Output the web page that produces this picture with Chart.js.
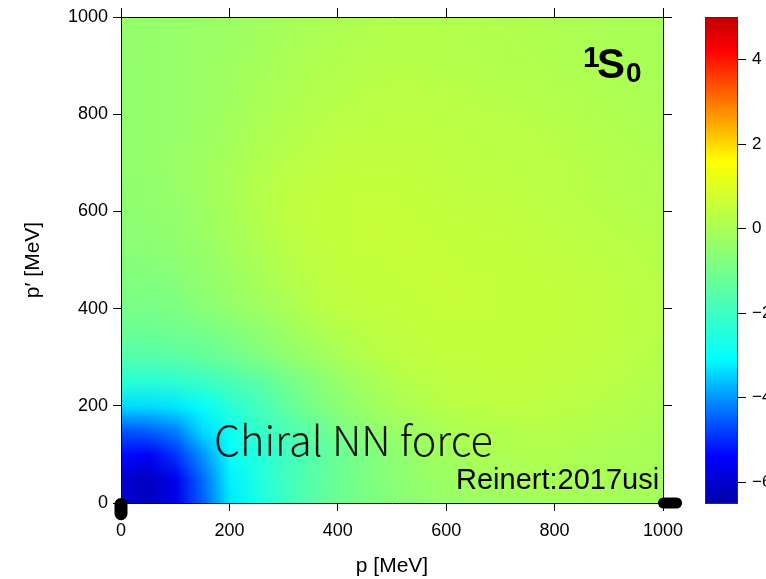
<!DOCTYPE html>
<html>
<head>
<meta charset="utf-8">
<style>
html, body { margin: 0; padding: 0; background: #fff; overflow: hidden; }
canvas { display: block; }
</style>
<script src="https://cdn.jsdelivr.net/npm/chart.js@4.4.0/dist/chart.umd.min.js"></script>
</head>
<body>
<canvas id="chart" width="766" height="579"></canvas>
<script>
// momentum mesh (MeV), same for p and p'
const pGrid = [0, 50, 100, 150, 200, 250, 300, 350, 400, 450, 500, 550, 600, 650, 700, 750, 800, 850, 900, 950, 1000];

// V(p, p'), one row per p' value, columns follow pGrid (p)
const vP0    = [-6.0, -6.2, -5.7, -4.5, -3.3, -2.7, -2.0, -1.55, -1.2, -0.9, -0.7, -0.5, -0.35, -0.25, -0.2, -0.15, -0.1, -0.1, -0.1, -0.1, -0.1];
const vP50   = [-6.0, -6.2, -5.6, -4.4, -3.2, -2.6, -1.95, -1.55, -1.15, -0.85, -0.6, -0.4, -0.25, -0.15, -0.1, -0.05, -0.05, -0.05, -0.05, -0.1, -0.1];
const vP100  = [-5.3, -5.5, -4.9, -4.0, -3.0, -2.5, -2.0, -1.6, -1.2, -0.85, -0.55, -0.3, -0.15, 0.0, 0.05, 0.1, 0.1, 0.05, 0.0, 0.0, -0.05];
const vP150  = [-4.6, -4.5, -4.2, -3.4, -2.9, -2.2, -1.8, -1.4, -0.95, -0.6, -0.35, -0.15, 0.0, 0.1, 0.15, 0.2, 0.2, 0.15, 0.1, 0.05, 0.0];
const vP200  = [-3.4, -3.4, -3.3, -3.0, -2.4, -1.9, -1.4, -0.95, -0.6, -0.3, -0.05, 0.1, 0.25, 0.3, 0.35, 0.35, 0.3, 0.25, 0.2, 0.15, 0.1];
const vP250  = [-2.4, -2.4, -2.3, -2.1, -1.8, -1.5, -1.1, -0.75, -0.4, -0.1, 0.1, 0.25, 0.35, 0.4, 0.42, 0.42, 0.4, 0.35, 0.3, 0.2, 0.15];
const vP300  = [-1.6, -1.6, -1.5, -1.35, -1.15, -0.85, -0.55, -0.3, -0.05, 0.15, 0.3, 0.4, 0.45, 0.45, 0.45, 0.45, 0.42, 0.4, 0.35, 0.25, 0.2];
const vP350  = [-1.2, -1.2, -1.1, -1.0, -0.8, -0.55, -0.3, -0.05, 0.15, 0.3, 0.4, 0.45, 0.48, 0.48, 0.48, 0.45, 0.45, 0.42, 0.38, 0.3, 0.25];
const vP400  = [-0.95, -0.95, -0.85, -0.65, -0.45, -0.25, -0.05, 0.2, 0.35, 0.42, 0.45, 0.48, 0.52, 0.52, 0.48, 0.48, 0.45, 0.42, 0.38, 0.32, 0.25];
const vP450  = [-0.8, -0.8, -0.7, -0.5, -0.3, -0.1, 0.1, 0.3, 0.42, 0.45, 0.48, 0.52, 0.52, 0.52, 0.48, 0.45, 0.45, 0.42, 0.38, 0.3, 0.25];
const vP500  = [-0.7, -0.65, -0.55, -0.4, -0.2, 0.0, 0.2, 0.35, 0.45, 0.48, 0.52, 0.52, 0.52, 0.48, 0.45, 0.45, 0.42, 0.38, 0.33, 0.28, 0.2];
const vP550  = [-0.6, -0.55, -0.45, -0.3, -0.1, 0.1, 0.3, 0.42, 0.48, 0.52, 0.52, 0.52, 0.48, 0.45, 0.45, 0.42, 0.38, 0.33, 0.28, 0.23, 0.2];
const vP600  = [-0.55, -0.5, -0.4, -0.25, -0.05, 0.15, 0.35, 0.45, 0.48, 0.52, 0.52, 0.48, 0.45, 0.42, 0.42, 0.38, 0.33, 0.28, 0.23, 0.2, 0.15];
const vP650  = [-0.5, -0.45, -0.35, -0.2, 0.0, 0.2, 0.35, 0.42, 0.45, 0.48, 0.48, 0.45, 0.42, 0.38, 0.38, 0.33, 0.28, 0.23, 0.2, 0.15, 0.1];
const vP700  = [-0.45, -0.4, -0.3, -0.2, -0.05, 0.1, 0.25, 0.35, 0.42, 0.42, 0.42, 0.42, 0.38, 0.35, 0.33, 0.3, 0.28, 0.23, 0.2, 0.15, 0.1];
const vP750  = [-0.45, -0.4, -0.35, -0.25, -0.1, 0.05, 0.15, 0.25, 0.33, 0.38, 0.38, 0.38, 0.35, 0.33, 0.3, 0.28, 0.25, 0.2, 0.15, 0.1, 0.05];
const vP800  = [-0.45, -0.4, -0.35, -0.25, -0.15, 0.0, 0.1, 0.2, 0.25, 0.3, 0.33, 0.33, 0.3, 0.28, 0.25, 0.23, 0.2, 0.15, 0.1, 0.05, 0.05];
const vP850  = [-0.45, -0.4, -0.35, -0.3, -0.2, -0.05, 0.05, 0.15, 0.2, 0.25, 0.28, 0.28, 0.25, 0.23, 0.2, 0.2, 0.15, 0.1, 0.05, 0.05, 0.0];
const vP900  = [-0.45, -0.4, -0.35, -0.3, -0.2, -0.1, 0.0, 0.1, 0.15, 0.2, 0.23, 0.23, 0.2, 0.2, 0.15, 0.15, 0.1, 0.05, 0.05, 0.0, 0.0];
const vP950  = [-0.4, -0.4, -0.35, -0.3, -0.25, -0.15, -0.05, 0.05, 0.1, 0.15, 0.2, 0.2, 0.2, 0.15, 0.15, 0.1, 0.1, 0.05, 0.0, 0.0, -0.05];
const vP1000 = [-0.4, -0.4, -0.35, -0.3, -0.25, -0.2, -0.1, -0.05, 0.05, 0.1, 0.15, 0.15, 0.15, 0.15, 0.1, 0.1, 0.05, 0.05, 0.0, 0.0, -0.05];
const vRows = [vP0, vP50, vP100, vP150, vP200, vP250, vP300, vP350, vP400, vP450, vP500,
               vP550, vP600, vP650, vP700, vP750, vP800, vP850, vP900, vP950, vP1000];

const xTicks = [0, 200, 400, 600, 800, 1000];
const yTicks = [0, 200, 400, 600, 800, 1000];

// colour key
const cbMin = -6.5, cbMax = 5;
const cbTicks = [4, 2, 0, -2, -4, -6];
const cbValues = [-6.5, -5.4, -4.2, -3.1, -0.8, 1.6, 2.9, 4.2, 5.0];
const cbColors = ['#0000a8', '#0000ff', '#0080ff', '#00ffff', '#80ff80', '#ffff00', '#ff8000', '#ff0000', '#c00000'];

// the two black marks sitting on the axes
const markLeft = [{x: 0, y: -3}, {x: 0, y: -22}];
const markRight = [{x: 1001, y: 0}, {x: 1025, y: 0}];

const sans = '"Liberation Sans", Arial, sans-serif';

function hexRgb(h) {
    return [parseInt(h.slice(1, 3), 16), parseInt(h.slice(3, 5), 16), parseInt(h.slice(5, 7), 16)];
}
function colorFor(v) {
    if (v <= cbValues[0]) return hexRgb(cbColors[0]);
    for (let i = 1; i < cbValues.length; i++) {
        if (v <= cbValues[i]) {
            const t = (v - cbValues[i - 1]) / (cbValues[i] - cbValues[i - 1]);
            const a = hexRgb(cbColors[i - 1]), b = hexRgb(cbColors[i]);
            return [0, 1, 2].map(k => Math.round(a[k] + (b[k] - a[k]) * t));
        }
    }
    return hexRgb(cbColors[cbColors.length - 1]);
}

const heatmap = {
    id: 'heatmap',
    beforeDraw(chart) {
        const {ctx, chartArea: a, scales: {x, y}} = chart;
        const n = pGrid.length;
        const off = document.createElement('canvas');
        off.width = n; off.height = n;
        const octx = off.getContext('2d');
        const img = octx.createImageData(n, n);
        for (let r = 0; r < n; r++) {
            for (let c = 0; c < n; c++) {
                const col = colorFor(vRows[r][c]);
                const k = ((n - 1 - r) * n + c) * 4;
                img.data[k] = col[0]; img.data[k + 1] = col[1]; img.data[k + 2] = col[2]; img.data[k + 3] = 255;
            }
        }
        octx.putImageData(img, 0, 0);
        const half = (pGrid[1] - pGrid[0]) / 2;
        const x0 = x.getPixelForValue(pGrid[0] - half), x1 = x.getPixelForValue(pGrid[n - 1] + half);
        const y0 = y.getPixelForValue(pGrid[n - 1] + half), y1 = y.getPixelForValue(pGrid[0] - half);
        ctx.save();
        ctx.beginPath();
        ctx.rect(a.left, a.top, a.right - a.left, a.bottom - a.top);
        ctx.clip();
        ctx.imageSmoothingEnabled = true;
        ctx.drawImage(off, x0, y0, x1 - x0, y1 - y0);
        ctx.restore();
    },
    afterDraw(chart) {
        const {ctx} = chart;
        const cb = chart.scales.cb;
        // colour bar
        const top = cb.getPixelForValue(cbMax), bot = cb.getPixelForValue(cbMin);
        const g = ctx.createLinearGradient(0, bot, 0, top);
        cbValues.forEach((v, i) => g.addColorStop((v - cbMin) / (cbMax - cbMin), cbColors[i]));
        ctx.save();
        ctx.fillStyle = g;
        ctx.fillRect(705, top, 33, bot - top);
        ctx.strokeStyle = '#333';
        ctx.lineWidth = 1;
        ctx.strokeRect(705.5, top + 0.5, 32, bot - top);
        ctx.fillStyle = '#000';
        ctx.strokeStyle = '#000';
        ctx.font = '17px ' + sans;
        ctx.textBaseline = 'middle';
        ctx.textAlign = 'left';
        cbTicks.forEach(v => {
            const yy = Math.round(cb.getPixelForValue(v)) + 0.5;
            ctx.beginPath();
            ctx.moveTo(738, yy); ctx.lineTo(746, yy);
            ctx.stroke();
            ctx.fillText(v < 0 ? '\u2212' + Math.abs(v) : String(v), 752, yy);
        });

        // annotations
        ctx.textBaseline = 'alphabetic';
        ctx.font = '300 41.5px "Noto Sans CJK SC", "Noto Sans", sans-serif';
        ctx.fillStyle = '#111';
        ctx.fillText('Chiral NN force', 214, 456);

        ctx.fillStyle = '#000';
        ctx.font = '29px ' + sans;
        ctx.fillText('Reinert:2017usi', 456, 489);

        ctx.font = 'bold 30px ' + sans;
        ctx.fillText('1', 583, 67);
        ctx.font = 'bold 42px ' + sans;
        ctx.fillText('S', 597, 78);
        ctx.font = 'bold 28px ' + sans;
        ctx.fillText('0', 626, 82);
        ctx.restore();
    }
};

const tickFont = {family: sans, size: 18};
const titleFont = {family: sans, size: 21};
const plain = v => String(v);

new Chart(document.getElementById('chart'), {
    type: 'scatter',
    data: {
        datasets: [
            {data: markLeft, showLine: true, borderColor: '#000', borderWidth: 13, borderCapStyle: 'round', pointRadius: 0, clip: false},
            {data: markRight, showLine: true, borderColor: '#000', borderWidth: 11, borderCapStyle: 'round', pointRadius: 0, clip: false}
        ]
    },
    options: {
        responsive: false,
        animation: false,
        layout: {padding: 0},
        plugins: {legend: {display: false}, tooltip: {enabled: false}},
        scales: {
            x: {
                type: 'linear', position: 'bottom', min: 0, max: 1000,
                afterBuildTicks: s => { s.ticks = xTicks.map(v => ({value: v})); },
                afterFit: s => { s.height = 76; },
                ticks: {font: tickFont, color: '#000', padding: 9, maxRotation: 0, autoSkip: false, callback: plain},
                grid: {drawOnChartArea: false, tickLength: 8, color: '#000'},
                border: {color: '#000', width: 1},
                title: {display: true, text: 'p [MeV]', font: titleFont, color: '#000', padding: {top: 0, bottom: 0}}
            },
            y: {
                type: 'linear', position: 'left', min: 0, max: 1000,
                afterBuildTicks: s => { s.ticks = yTicks.map(v => ({value: v})); },
                afterFit: s => { s.width = 121; },
                ticks: {font: tickFont, color: '#000', padding: 5, autoSkip: false, callback: plain},
                grid: {drawOnChartArea: false, tickLength: 8, color: '#000'},
                border: {color: '#000', width: 1},
                title: {display: true, text: 'p\u2032 [MeV]', font: titleFont, color: '#000', padding: {top: 21, bottom: 0}}
            },
            x2: {
                type: 'linear', position: 'top', min: 0, max: 1000,
                afterBuildTicks: s => { s.ticks = xTicks.map(v => ({value: v})); },
                afterFit: s => { s.height = 17; },
                ticks: {display: false},
                grid: {drawOnChartArea: false, tickLength: 9, color: '#000'},
                border: {color: '#000', width: 1}
            },
            y2: {
                type: 'linear', position: 'right', min: 0, max: 1000,
                afterBuildTicks: s => { s.ticks = yTicks.map(v => ({value: v})); },
                afterFit: s => { s.width = 103; },
                ticks: {display: false},
                grid: {drawOnChartArea: false, tickLength: 9, color: '#000'},
                border: {color: '#000', width: 1}
            },
            cb: {
                type: 'linear', position: 'right', min: cbMin, max: cbMax, display: false
            }
        }
    },
    plugins: [heatmap]
});
</script>
</body>
</html>
